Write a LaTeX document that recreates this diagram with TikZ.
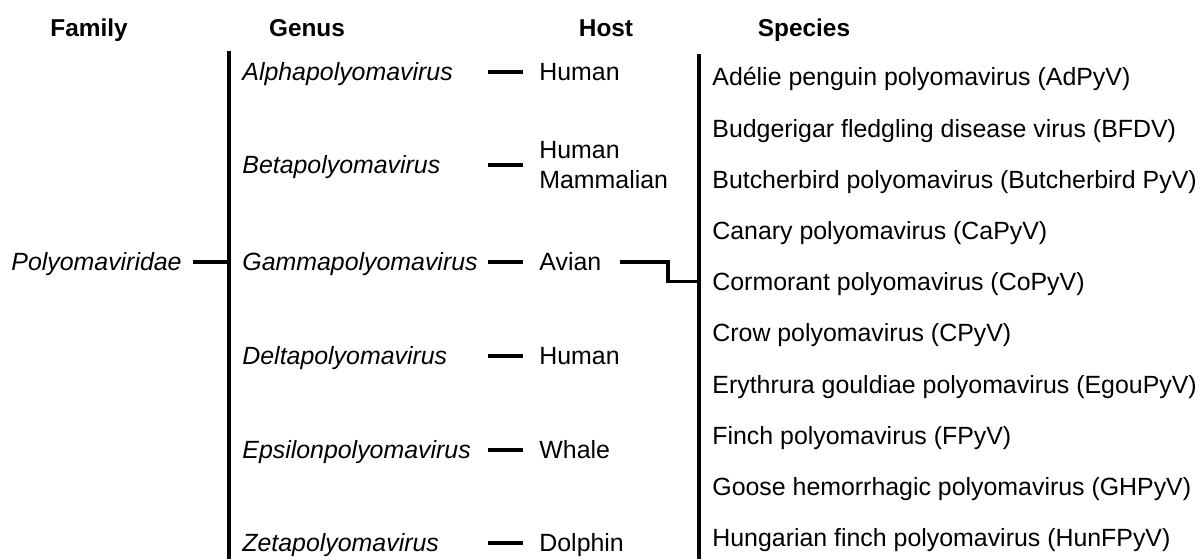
\documentclass[tikz,border=0pt]{standalone}
\usepackage{fontspec}
\setmainfont{Liberation Sans}
\usetikzlibrary{calc}
\begin{document}
\begin{tikzpicture}[x=0.5pt,y=-0.5pt,
  every node/.style={font=\fontsize{12.45}{15}\selectfont},
  head/.style={inner sep=0pt,text height=8.7pt,text depth=0pt,
               font=\fontsize{12.2}{15}\selectfont\bfseries},
  lbl/.style={anchor=west,inner sep=0pt,text height=8.9pt,text depth=0pt},
  genus/.style={lbl,font=\fontsize{12.45}{15}\selectfont\itshape},
  link/.style={line width=1.6pt},
]
\useasboundingbox (0,0) rectangle (1204,559);
% column heads
\node[head] (fam) at (89,28) {Family};
\node[head] (gen) at (307,28) {Genus};
\node[head] (hst) at (606,28) {Host};
\node[head] (spc) at (804,28) {Species};
% family
\node[genus] (polyo) at (11,262) {Polyomaviridae};
\coordinate (gtop) at (229,51);
\coordinate (gbot) at (229,559);
\coordinate (stop) at (699,54);
\coordinate (sbot) at (699,559);
% genera
\node[genus] (g1) at (242,72) {Alphapolyomavirus};
\node[genus] (g2) at (242,165) {Betapolyomavirus};
\node[genus] (g3) at (242,262) {Gammapolyomavirus};
\node[genus] (g4) at (242,356) {Deltapolyomavirus};
\node[genus] (g5) at (242,450) {Epsilonpolyomavirus};
\node[genus] (g6) at (242,543) {Zetapolyomavirus};
% hosts
\node[lbl] (h1) at (539,72) {Human};
\node[anchor=west,inner sep=0pt,align=left] (h2) at (539,165) {Human\\Mammalian};
\node[lbl] (h3) at (539,262) {Avian};
\node[lbl] (h4) at (539,356) {Human};
\node[lbl] (h5) at (539,450) {Whale};
\node[lbl] (h6) at (539,543) {Dolphin};
% species
\node[lbl] (s1) at (712,77) {Adélie penguin polyomavirus (AdPyV)};
\node[lbl] (s2) at (712,128.2) {Budgerigar fledgling disease virus (BFDV)};
\node[lbl] (s3) at (712,179.4) {Butcherbird polyomavirus (Butcherbird PyV)};
\node[lbl] (s4) at (712,230.6) {Canary polyomavirus (CaPyV)};
\node[lbl] (s5) at (712,281.8) {Cormorant polyomavirus (CoPyV)};
\node[lbl] (s6) at (712,333) {Crow polyomavirus (CPyV)};
\node[lbl] (s7) at (712,384.2) {Erythrura gouldiae polyomavirus (EgouPyV)};
\node[lbl] (s8) at (712,435.4) {Finch polyomavirus (FPyV)};
\node[lbl] (s9) at (712,486.6) {Goose hemorrhagic polyomavirus (GHPyV)};
\node[lbl] (s10) at (712,537.8) {Hungarian finch polyomavirus (HunFPyV)};
% connectors
\draw[link] (gtop) -- (gbot);
\draw[link] (stop) -- (sbot);
\draw[link] (polyo.east) ++(11,0) -- (polyo.east -| gtop);
\draw[link] (h1.west) ++(-16,0) -- ++(-35,0);
\draw[link] (h2.west) ++(-16,0) -- ++(-35,0);
\draw[link] (h3.west) ++(-16,0) -- ++(-35,0);
\draw[link] (h4.west) ++(-16,0) -- ++(-35,0);
\draw[link] (h5.west) ++(-16,0) -- ++(-35,0);
\draw[link] (h6.west) ++(-16,0) -- ++(-35,0);
\draw[link] (h3.east) ++(18,0) -| ($(s5.west -| stop)+(-31,0)$) -- (s5.west -| stop);
\end{tikzpicture}
\end{document}
